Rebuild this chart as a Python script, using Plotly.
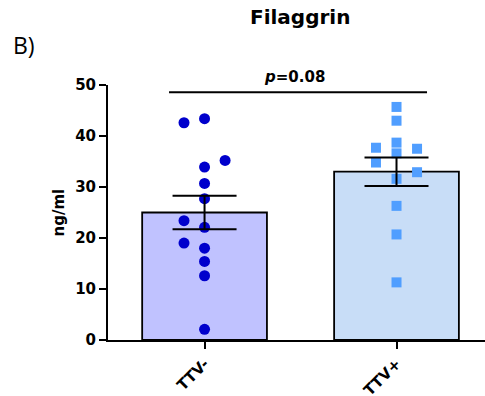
import plotly.graph_objects as go

# ---- data ----
categories = ["TTV-", "TTV+"]
bar_means = [25.0, 33.0]
bar_sem = [3.3, 2.8]

ttv_neg_values = [42.6, 43.4, 35.2, 33.9, 30.7, 27.7, 23.4, 22.1, 19.0, 18.0, 15.4, 12.6, 2.1]
ttv_pos_values = [45.7, 43.0, 37.7, 38.7, 37.5, 36.6, 34.8, 32.9, 31.6, 26.3, 20.7, 11.3]

# scatter column (-1 left, 0 centre, +1 right) for each point
ttv_neg_cols = [-1, 0, 1, 0, 0, 0, -1, 0, -1, 0, 0, 0, 0]
ttv_pos_cols = [0, 0, -1, 0, 1, 0, -1, 1, 0, 0, 0, 0]

y_ticks = [0, 10, 20, 30, 40, 50]
p_label = "<b><i>p</i>=0.08</b>"
title_text = "<b>Filaggrin</b>"
y_title = "<b>ng/ml</b>"
panel_label = "B)"

# ---- styling ----
FONT = "DejaVu Sans"
W, H = 485, 396
L, R, T, B = 108, 0, 85, 56
PW, PH = W - L - R, H - T - B
col_step = 0.107
bar_fill = ["rgb(192,194,255)", "rgb(200,221,247)"]
pt_colors = ["rgb(0,0,204)", "rgb(80,158,255)"]


def px_x(x):
    return (x - L) / PW


def px_y(y):
    return 1 + (T - y) / PH


fig = go.Figure()
fig.add_trace(go.Bar(
    x=[0, 1], y=bar_means, width=0.65,
    marker=dict(color=bar_fill, line=dict(color="black", width=1.8)),
    showlegend=False,
))
fig.add_trace(go.Scatter(
    x=[0 + c * col_step for c in ttv_neg_cols], y=ttv_neg_values, mode="markers",
    marker=dict(symbol="circle", size=11, color=pt_colors[0]), showlegend=False,
))
fig.add_trace(go.Scatter(
    x=[1 + c * col_step for c in ttv_pos_cols], y=ttv_pos_values, mode="markers",
    marker=dict(symbol="square", size=10, color=pt_colors[1]), showlegend=False,
))
# error bars drawn on top of points
fig.add_trace(go.Scatter(
    x=[0, 1], y=bar_means, mode="markers", marker=dict(size=0.1, color="rgba(0,0,0,0)"),
    error_y=dict(type="data", array=bar_sem, color="black", thickness=2, width=32),
    showlegend=False, hoverinfo="skip",
))

# significance bar
fig.add_shape(type="line", xref="x", yref="y", x0=-0.185, x1=1.159, y0=48.6, y1=48.6,
              line=dict(color="black", width=2))
fig.add_annotation(x=0.466, y=px_y(77), xref="x", yref="paper", showarrow=False,
                   text=p_label, font=dict(family=FONT, size=15, color="black"),
                   yanchor="middle")

# title, panel label, y title (positions in reference pixels)
fig.add_annotation(x=px_x(300), y=px_y(17), xref="paper", yref="paper",
                   showarrow=False, text=title_text,
                   font=dict(family=FONT, size=20, color="black"),
                   xanchor="center", yanchor="middle")
fig.add_annotation(x=px_x(11), y=px_y(45), xref="paper", yref="paper",
                   showarrow=False, text=panel_label,
                   font=dict(family="Open Sans", size=23, color="black"),
                   xanchor="left", yanchor="middle")
fig.add_annotation(x=px_x(58), y=0.5, xref="paper", yref="paper", showarrow=False,
                   text=y_title, textangle=-90, font=dict(family=FONT, size=15, color="black"),
                   xanchor="center", yanchor="middle")

fig.update_layout(
    width=W, height=H,
    margin=dict(l=L, r=R, t=T, b=B, autoexpand=False),
    plot_bgcolor="white", paper_bgcolor="white",
    font=dict(family=FONT, color="black"),
)
fig.update_xaxes(
    range=[-0.503, 1.461], tickmode="array", tickvals=[0, 1], ticktext=categories,
    tickangle=-45, showline=True, linecolor="black", linewidth=2,
    ticks="outside", ticklen=7, tickwidth=2, tickcolor="black",
    showgrid=False, zeroline=False, automargin=False,
    tickfont=dict(family=FONT, size=15, color="black", weight="bold"),
)
fig.update_yaxes(
    range=[0, 50], tickmode="array", tickvals=y_ticks,
    showline=True, linecolor="black", linewidth=2,
    ticks="outside", ticklen=7, tickwidth=2, tickcolor="black",
    showgrid=False, zeroline=False, automargin=False,
    tickfont=dict(family=FONT, size=15, color="black", weight="bold"),
)

fig.write_html("out.html", config={"displayModeBar": False},
               post_script="document.body.style.margin='0px';document.body.style.overflow='hidden';")
